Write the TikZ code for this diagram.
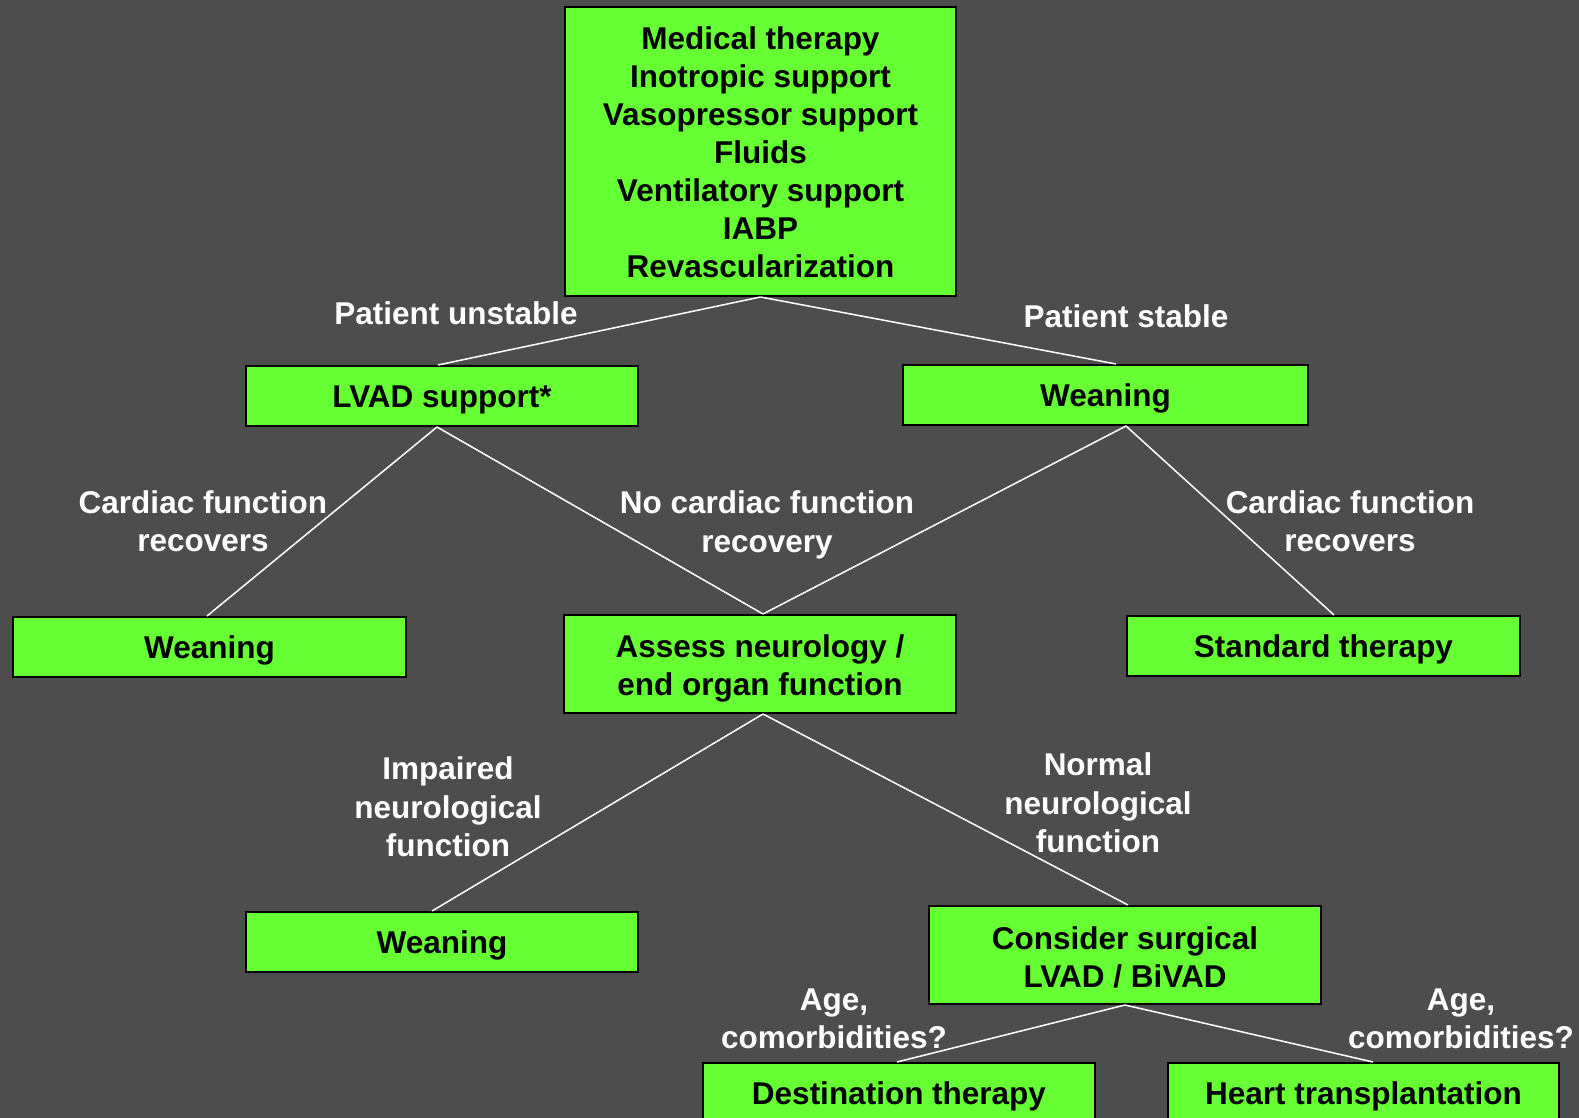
\documentclass[tikz,border=0pt]{standalone}
\usepackage{fontspec}
\setmainfont{Liberation Sans}
\definecolor{bggray}{RGB}{77,77,77}
\definecolor{boxgreen}{RGB}{102,255,51}
\begin{document}
\begin{tikzpicture}[x=1pt,y=-1pt,
  box/.style={draw=black, line width=2pt, fill=boxgreen, inner sep=0pt,
    align=center, font=\fontsize{31.5}{38}\selectfont\bfseries, text=black},
  onebox/.style={box, minimum height=60pt, text height=30pt, text depth=7pt},
  lbl/.style={inner sep=0pt, align=center, text=white,
    font=\fontsize{31.5}{38.5}\selectfont\bfseries},
  link/.style={draw=white, line width=1.5pt}]
\clip (0,0) rectangle (1579,1118);
\fill[bggray] (0,0) rectangle (1579,1118);

% decision boxes
\node[box, minimum width=391pt, minimum height=289pt] (top) at (760.5,151.5)
  {\rule{0pt}{25pt}Medical therapy\\Inotropic support\\Vasopressor support\\Fluids\\Ventilatory support\\IABP\\Revascularization};
\node[onebox, minimum width=392pt] (lvad) at (442,396) {LVAD support*};
\node[onebox, minimum width=405pt] (wr) at (1105.5,395) {Weaning};
\node[onebox, minimum width=393pt] (wl) at (209.5,647) {Weaning};
\node[box, minimum width=392pt, minimum height=98pt] (assess) at (760,664)
  {\rule{0pt}{31pt}Assess neurology /\\end organ function};
\node[onebox, minimum width=393pt] (std) at (1323.5,646) {Standard therapy};
\node[onebox, minimum width=392pt] (wb) at (442,942) {Weaning};
\node[box, minimum width=392pt, minimum height=98pt] (consider) at (1125,955)
  {\rule{0pt}{27pt}Consider surgical\\LVAD / BiVAD};
\node[onebox, minimum width=392pt] (dest) at (899,1093) {Destination therapy};
\node[onebox, minimum width=391pt] (heart) at (1363.5,1093) {Heart transplantation};

% connectors
\draw[link] (top.south) -- ([xshift=-4pt]lvad.north);
\draw[link] (top.south) -- ([xshift=10.5pt]wr.north);
\draw[link] ([xshift=-5pt]lvad.south) -- ([xshift=-2.5pt]wl.north);
\draw[link] ([xshift=-5pt]lvad.south) -- ([xshift=3pt]assess.north);
\draw[link] ([xshift=20.5pt]wr.south) -- ([xshift=3pt]assess.north);
\draw[link] ([xshift=20.5pt]wr.south) -- ([xshift=10.5pt]std.north);
\draw[link] ([xshift=3pt]assess.south) -- ([xshift=-10pt]wb.north);
\draw[link] ([xshift=3pt]assess.south) -- ([xshift=3pt]consider.north);
\draw[link] (consider.south) -- ([xshift=-2pt]dest.north);
\draw[link] (consider.south) -- ([xshift=9.5pt]heart.north);

% branch labels
\node[lbl] (l1) at (456,313) {Patient unstable};
\node[lbl] (l2) at (1126,316) {Patient stable};
\node[lbl] (l3) at (203,521) {Cardiac function\\recovers};
\node[lbl] (l4) at (767,525) {No cardiac function\\recovery};
\node[lbl] (l5) at (1350,521) {Cardiac function\\recovers};
\node[lbl] (l6) at (448,807) {Impaired\\neurological\\function};
\node[lbl] (l7) at (1098,803) {Normal\\neurological\\function};
\node[lbl] (l8) at (834,1019) {Age,\\comorbidities?};
\node[lbl] (l9) at (1461,1019) {Age,\\comorbidities?};
\end{tikzpicture}
\end{document}
